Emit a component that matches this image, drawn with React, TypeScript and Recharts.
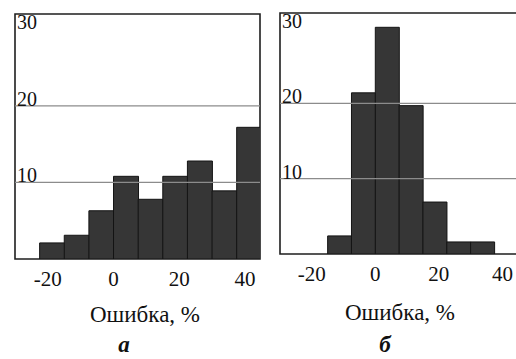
import { BarChart, Bar, XAxis, YAxis, ReferenceLine, ReferenceArea } from "recharts";

// bin centres, % error (bins about 7.5 % wide)
const binCenters = [-26.25, -18.75, -11.25, -3.75, 3.75, 11.25, 18.75, 26.25, 33.75, 41.25];
const countsA = [0, 2.1, 3.1, 6.3, 10.8, 7.8, 10.8, 12.8, 8.9, 17.2];
const countsB = [0, 0, 2.4, 21.4, 30.1, 19.7, 6.9, 1.6, 1.6, 0];
const errorTicks = [-20, 0, 20, 40];
const countTicks = [10, 20, 30];
const gridValues = [10, 20];
const errorDomain: [number, number] = [-30, 44.6];
const countDomain: [number, number] = [0, 32];

const FONT = "'Liberation Serif', 'Times New Roman', serif";

const toRows = (counts: number[]) => binCenters.map((x, i) => ({ x, count: counts[i] }));

function CountTick(props: any) {
  const { x, y, payload } = props;
  return (
    <text x={x} y={y - 7} dy="0.35em" textAnchor="start" fontFamily={FONT} fontSize={20} fill="#111">
      {payload.value}
    </text>
  );
}

function Panel({ counts, width, height, margin }: { counts: number[]; width: number; height: number; margin: any }) {
  return (
    <BarChart width={width} height={height} data={toRows(counts)} margin={margin} barCategoryGap={0} barGap={0}>
      <XAxis
        dataKey="x"
        type="number"
        domain={errorDomain}
        ticks={errorTicks}
        allowDataOverflow
        axisLine={false}
        tickLine={false}
        tickSize={0}
        tickMargin={12}
        height={41}
        interval={0}
        tick={{ fontFamily: FONT, fontSize: 21, fill: "#111" }}
      />
      <YAxis
        domain={countDomain}
        ticks={countTicks}
        allowDataOverflow
        mirror
        width={24}
        interval={0}
        axisLine={false}
        tickLine={false}
        tickSize={0}
        tickMargin={2}
        tick={(p: any) => <CountTick {...p} />}
      />
      <Bar dataKey="count" fill="#363636" stroke="#141414" strokeWidth={1} isAnimationActive={false} />
      {gridValues.map((v) => (
        <ReferenceLine key={v} y={v} stroke="#8c8c8c" strokeWidth={1.2} />
      ))}
      <ReferenceArea
        x1={errorDomain[0]}
        x2={errorDomain[1]}
        y1={countDomain[0]}
        y2={countDomain[1]}
        fill="none"
        stroke="#1e1e1e"
        strokeWidth={1.6}
        ifOverflow="visible"
      />
    </BarChart>
  );
}

const caption: React.CSSProperties = {
  position: "absolute",
  fontFamily: FONT,
  fontSize: 23,
  color: "#111",
  transform: "translateX(-50%)",
  whiteSpace: "nowrap",
  lineHeight: 1,
};

const letter: React.CSSProperties = {
  ...caption,
  fontSize: 23,
  fontStyle: "italic",
  fontWeight: "bold",
};

export default function App() {
  return (
    <div
      style={{
        position: "absolute",
        left: 0,
        top: 0,
        width: 516,
        height: 359,
        overflow: "hidden",
        background: "#fff",
      }}
    >
      <div style={{ position: "absolute", left: 0, top: 0 }}>
        <Panel counts={countsA} width={262} height={300} margin={{ top: 14, right: 2, left: 15, bottom: 0 }} />
      </div>
      <div style={{ position: "absolute", left: 270, top: 0 }}>
        <Panel counts={countsB} width={260} height={295} margin={{ top: 13, right: 13, left: 10, bottom: 0 }} />
      </div>
      <div style={{ ...caption, left: 145, top: 303 }}>Ошибка, %</div>
      <div style={{ ...caption, left: 400, top: 301 }}>Ошибка, %</div>
      <div style={{ ...letter, left: 124, top: 333 }}>а</div>
      <div style={{ ...letter, left: 385, top: 333 }}>б</div>
    </div>
  );
}
